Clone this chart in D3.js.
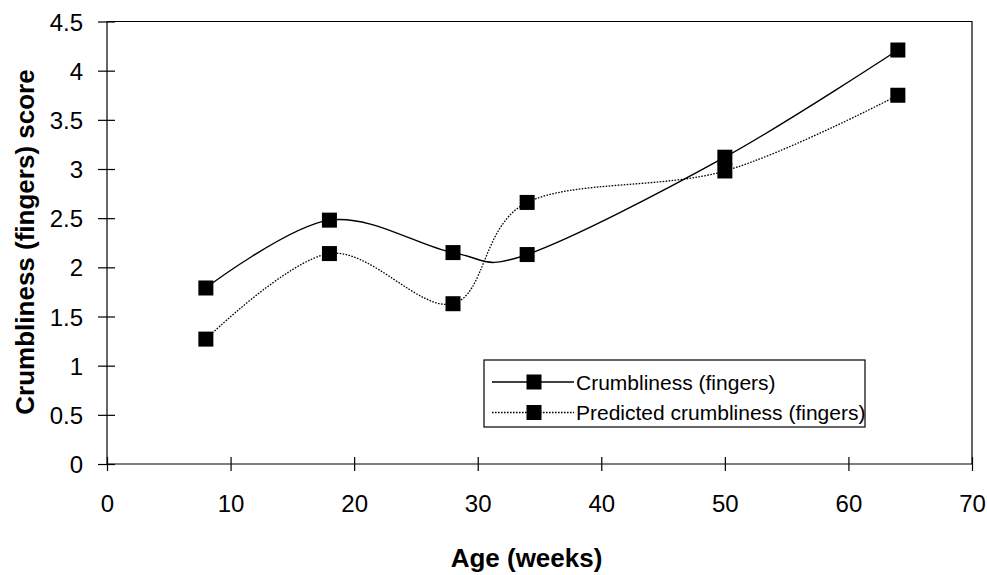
<!DOCTYPE html>
<html>
<head>
<meta charset="utf-8">
<script src="https://cdn.jsdelivr.net/npm/d3@7"></script>
<style>
  html, body { margin: 0; padding: 0; background: #fff; }
  svg text { font-family: "Liberation Sans", Arial, sans-serif; fill: #000; }
</style>
</head>
<body>
<svg id="chart" width="987" height="575"></svg>
<script>
// Age in weeks at which the samples were scored
const ages = [8, 18, 28, 34, 50, 64];
// Measured crumbliness (fingers) scores
const crumbliness = [1.79, 2.48, 2.15, 2.13, 3.12, 4.21];
// Predicted crumbliness (fingers) scores
const predicted = [1.27, 2.14, 1.63, 2.66, 2.98, 3.75];
// Axis ticks
const xTicks = [0, 10, 20, 30, 40, 50, 60, 70];
const yTicks = [0, 0.5, 1, 1.5, 2, 2.5, 3, 3.5, 4, 4.5];

const seriesNames = ["Crumbliness (fingers)", "Predicted crumbliness (fingers)"];

const svg = d3.select("#chart");
const plotL = 107, plotR = 972, plotT = 21.5, plotB = 464;

const x = d3.scaleLinear().domain([0, 70]).range([plotL, plotR]);
const y = d3.scaleLinear().domain([0, 4.5]).range([plotB, plotT]);

// Plot frame (top and right edges)
svg.append("path")
  .attr("d", `M${plotL},${plotT}H${plotR}V${plotB}`)
  .attr("fill", "none").attr("stroke", "#000").attr("stroke-width", 1.2);

// Y axis with ticks crossing the axis line
const yAxis = svg.append("g").attr("transform", `translate(${plotL},0)`)
  .call(d3.axisLeft(y).tickValues(yTicks).tickSize(9).tickPadding(15)
    .tickFormat(d => String(d)));
yAxis.selectAll(".tick line").attr("x2", -9).attr("x1", 8);
yAxis.select(".domain").attr("d", `M0,${plotT}V${plotB}`);

// X axis with ticks crossing the axis line
const xAxis = svg.append("g").attr("transform", `translate(0,${plotB})`)
  .call(d3.axisBottom(x).tickValues(xTicks).tickSize(7).tickPadding(24)
    .tickFormat(d => String(d)));
xAxis.selectAll(".tick line").attr("y1", -7).attr("y2", 7);
xAxis.select(".domain").attr("d", `M${plotL},0H${plotR}`);

svg.selectAll(".domain, .tick line").attr("stroke", "#000").attr("stroke-width", 1.2);
svg.selectAll(".tick text").attr("font-size", 24).attr("font-family", "Liberation Sans, Arial, sans-serif").attr("fill", "#000");
yAxis.selectAll(".tick text").attr("dy", "0.36em");
xAxis.selectAll(".tick text").attr("dy", "0.71em");

// Axis titles
svg.append("text")
  .attr("x", 526.5).attr("y", 567)
  .attr("text-anchor", "middle").attr("font-size", 26).attr("font-weight", "bold")
  .text("Age (weeks)");
svg.append("text")
  .attr("transform", `translate(33.5,242) rotate(-90)`)
  .attr("text-anchor", "middle").attr("font-size", 26).attr("font-weight", "bold")
  .text("Crumbliness (fingers) score");

// Smoothed series lines
const line = d3.line().x(d => x(d[0])).y(d => y(d[1])).curve(d3.curveCardinal.tension(0));
const series = [
  { values: crumbliness, dash: null },
  { values: predicted, dash: "1.6,1.4" }
];

series.forEach(s => {
  const pts = ages.map((a, i) => [a, s.values[i]]);
  svg.append("path")
    .attr("d", line(pts))
    .attr("fill", "none").attr("stroke", "#000")
    .attr("stroke-width", s.dash ? 1.3 : 1.4)
    .attr("stroke-dasharray", s.dash);
  svg.append("g").selectAll("rect").data(pts).join("rect")
    .attr("x", d => x(d[0]) - 7.5).attr("y", d => y(d[1]) - 7.5)
    .attr("width", 15).attr("height", 15).attr("fill", "#000");
});

// Legend
const lg = svg.append("g");
lg.append("rect").attr("x", 484).attr("y", 360).attr("width", 381).attr("height", 67)
  .attr("fill", "#fff").attr("stroke", "#000").attr("stroke-width", 1.2);
const rowsY = [382, 412.5];
series.forEach((s, i) => {
  lg.append("line").attr("x1", 492).attr("x2", 574).attr("y1", rowsY[i]).attr("y2", rowsY[i])
    .attr("stroke", "#000").attr("stroke-width", 1.3).attr("stroke-dasharray", s.dash);
  lg.append("rect").attr("x", 534 - 7.5).attr("y", rowsY[i] - 7.5).attr("width", 15).attr("height", 15).attr("fill", "#000");
  lg.append("text").attr("x", 576).attr("y", rowsY[i]).attr("dy", "0.36em")
    .attr("font-size", 21).text(seriesNames[i]);
});
</script>
</body>
</html>
